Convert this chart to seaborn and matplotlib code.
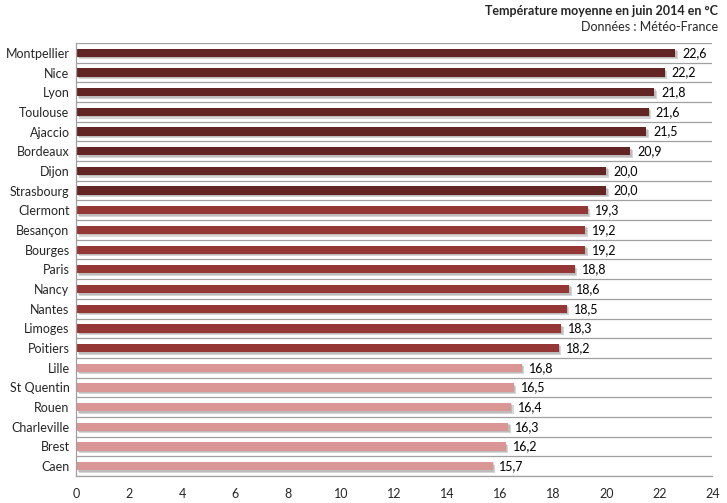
import matplotlib
matplotlib.use("Agg")
import matplotlib.pyplot as plt
import matplotlib.patheffects as pe
import numpy as np
import pandas as pd
import seaborn as sns

# Data
villes = ["Montpellier", "Nice", "Lyon", "Toulouse", "Ajaccio", "Bordeaux", "Dijon",
          "Strasbourg", "Clermont", "Besançon", "Bourges", "Paris", "Nancy", "Nantes",
          "Limoges", "Poitiers", "Lille", "St Quentin", "Rouen", "Charleville", "Brest", "Caen"]
temperatures = [22.6, 22.2, 21.8, 21.6, 21.5, 20.9, 20.0, 20.0, 19.3, 19.2, 19.2, 18.8,
                18.6, 18.5, 18.3, 18.2, 16.8, 16.5, 16.4, 16.3, 16.2, 15.7]
groupes = ["chaud"] * 8 + ["moyen"] * 8 + ["frais"] * 6
x_ticks = list(range(0, 25, 2))

palette = {"chaud": "#632523", "moyen": "#953735", "frais": "#D99694"}

df = pd.DataFrame({"ville": villes, "temp": temperatures, "groupe": groupes})

sns.set_style("white")
plt.rcParams["font.family"] = ["Lato", "DejaVu Sans"]

fig = plt.figure(figsize=(7.27, 5.03), dpi=100)
ax = fig.add_axes([0.1052, 0.0537, 0.8748, 0.8608])

sns.barplot(data=df, x="temp", y="ville", hue="groupe", palette=palette,
            dodge=False, width=0.42, legend=False, ax=ax, orient="h",
            saturation=1, linewidth=0, edgecolor="none")

# soft drop shadow like the Excel original
shadow = [pe.SimplePatchShadow(offset=(1.8, -1.8), shadow_rgbFace="#8c8c8c", alpha=0.35),
          pe.SimplePatchShadow(offset=(1.0, -1.0), shadow_rgbFace="#8c8c8c", alpha=0.35),
          pe.Normal()]
for p in ax.patches:
    p.set_path_effects(shadow)

for i, v in enumerate(temperatures):
    ax.annotate(f"{v:.1f}".replace(".", ","), (v, i), xytext=(5, 0),
                textcoords="offset points", va="center", ha="left",
                fontsize=9, color="black")

ax.set_xlim(0, 24)
ax.set_ylim(len(villes) - 0.5, -0.5)
ax.set_xticks(x_ticks)
ax.set_xticklabels([str(t) for t in x_ticks], fontsize=9)
ax.tick_params(axis="y", labelsize=9, length=0, pad=5)
ax.tick_params(axis="x", length=0, pad=9)
ax.set_yticks(np.arange(-0.5, len(villes), 1.0), minor=True)
ax.grid(False)
ax.grid(True, which="minor", axis="y", color="#a0a0a0", linewidth=0.9)
ax.set_xlabel("")
ax.set_ylabel("")

for s in ["top", "right"]:
    ax.spines[s].set_visible(False)
for s in ["left", "bottom"]:
    ax.spines[s].set_color("#a0a0a0")
    ax.spines[s].set_linewidth(0.9)

fig.text(0.988, 0.978, "Température moyenne en juin 2014 en °C", ha="right", va="center",
         fontsize=9, fontweight="bold")
fig.text(0.988, 0.946, "Données : Météo-France", ha="right", va="center", fontsize=9)

fig.savefig("out.png", dpi=100)
